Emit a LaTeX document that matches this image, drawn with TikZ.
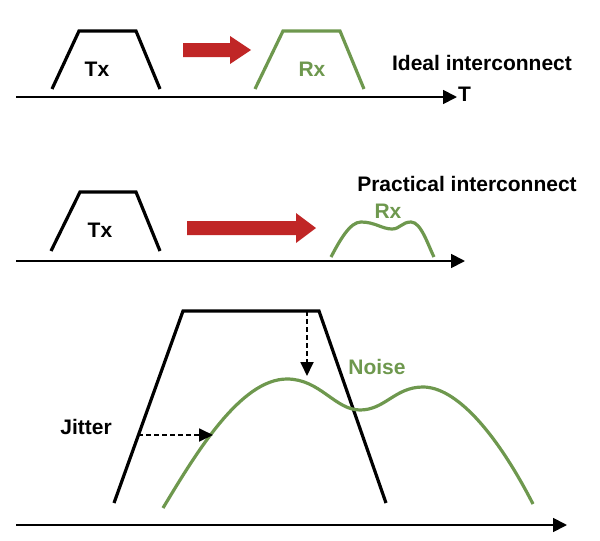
\documentclass[tikz,border=0pt]{standalone}
\usepackage{fontspec}
\setmainfont{Liberation Sans}
\usetikzlibrary{arrows.meta}
\definecolor{wgreen}{RGB}{110,152,78}
\definecolor{wred}{RGB}{192,38,38}
\begin{document}
\begin{tikzpicture}[x=1pt,y=-1pt,
  sig/.style={line width=3.2pt},
  gsig/.style={line width=3.2pt,draw=wgreen},
  axisline/.style={line width=1.8pt,-{Triangle[length=14pt,width=14pt]}},
  dasharrow/.style={line width=1.8pt,dash pattern=on 5pt off 3pt,-{Triangle[length=14pt,width=13pt]}},
  lab/.style={font=\bfseries\fontsize{21}{25}\selectfont,inner sep=0pt},
  bigarrow/.style={fill=wred,draw=none}]
\useasboundingbox (0,0) rectangle (600,541);

% ---------- top panel ----------
\draw[sig] (52,89) -- (79,31) -- (136,31) -- (160,89);
\node[lab] (tx1) at (97,69) {Tx};
\fill[bigarrow] (183,43) -- (230,43) -- (230,36) -- (251,50) -- (230,64) -- (230,57) -- (183,57) -- cycle;
\draw[gsig] (255,89) -- (283,31) -- (340,31) -- (364,89);
\node[lab,text=wgreen] (rx1) at (312,69) {Rx};
\node[lab] (ideal) at (482,63) {Ideal interconnect};
\coordinate (a1s) at (16,97);
\coordinate (a1e) at (457,97);
\draw[axisline] (a1s) -- (a1e);
\node[lab,anchor=west] (T) at ([xshift=1pt,yshift=3pt]a1e) {T};

% ---------- middle panel ----------
\draw[sig] (51,251) -- (80,192) -- (136,192) -- (160,251);
\node[lab] (tx2) at (100,230) {Tx};
\fill[bigarrow] (187,221) -- (296,221) -- (296,213) -- (316,228) -- (296,243) -- (296,235) -- (187,235) -- cycle;
\draw[gsig] (331,257) .. controls (340,240) and (350,222) .. (361,222)
  .. controls (375,222) and (382,229) .. (392,229)
  .. controls (400,229) and (402,222) .. (411,222)
  .. controls (421,222) and (428,245) .. (434,257);
\node[lab,text=wgreen] (rx2) at (388,211) {Rx};
\node[lab] (practical) at (467,184) {Practical interconnect};
\coordinate (a2s) at (16,261);
\coordinate (a2e) at (465,261);
\draw[axisline] (a2s) -- (a2e);

% ---------- bottom panel ----------
\draw[sig] (114,503) -- (183,311) -- (319,311) -- (386,503);
\draw[gsig] (163,508) .. controls (195,455) and (240,379) .. (287,379)
  .. controls (320,379) and (335,410) .. (360,410)
  .. controls (385,410) and (395,387) .. (423,387)
  .. controls (455,387) and (495,430) .. (533,504);
\node[lab,text=wgreen] (noise) at (377,367) {Noise};
\node[lab] (jitter) at (86,427) {Jitter};
\coordinate (ntop) at (307,311);
\coordinate (ntip) at (307,376);
\draw[dasharrow] (ntop) -- (ntip);
\coordinate (jl) at (138,435);
\coordinate (jr) at (213,435);
\draw[dasharrow] (jl) -- (jr);
\coordinate (a3s) at (16,525);
\coordinate (a3e) at (567,525);
\draw[axisline] (a3s) -- (a3e);
\end{tikzpicture}
\end{document}
